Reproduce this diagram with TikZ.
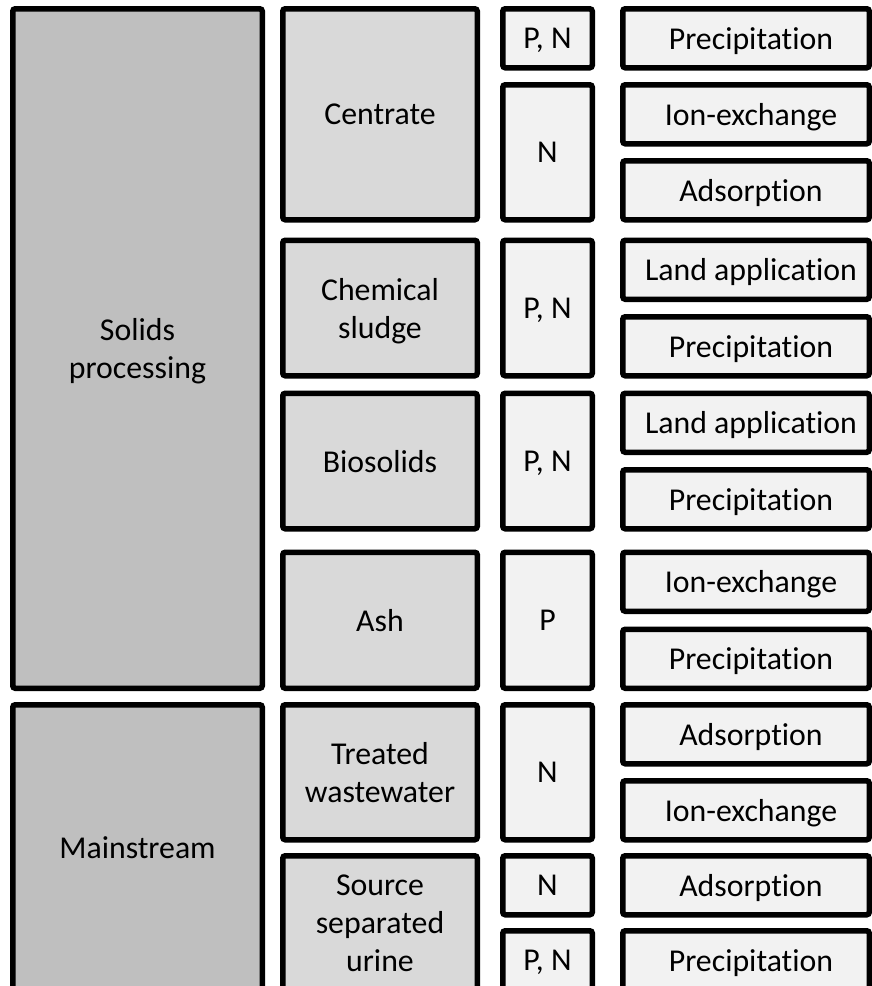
\documentclass[tikz,border=0pt]{standalone}
\usepackage{fontspec}
\setmainfont{Carlito}[Ligatures={NoCommon}]
\definecolor{streamfill}{HTML}{BFBFBF}
\definecolor{sourcefill}{HTML}{D9D9D9}
\definecolor{itemfill}{HTML}{F2F2F2}
\tikzset{
  cell/.style={draw=black, line width=5.5pt, rounded corners=2.5pt,
    inner sep=0pt, outer sep=0pt, align=center, text depth=0pt,
    font=\fontsize{31.8}{38}\selectfont},
  streambox/.style={cell, fill=streamfill},
  sourcebox/.style={cell, fill=sourcefill},
  nutrientbox/.style={cell, fill=itemfill},
  methodbox/.style={cell, fill=itemfill, execute at begin node={\hspace*{10pt}}},
}
% \cellbox{name}{style}{left}{top}{right}{bottom}{text}, outer edges in px
\newcommand\cellbox[7]{%
  \node[#2, minimum width={#5-#3-5.5}, minimum height={#6-#4-5.5}]
    (#1) at ({(#3+#5)/2},{(#4+#6)/2}) {#7};}
\begin{document}
\begin{tikzpicture}[x=1pt, y=-1pt]
  \useasboundingbox (0,0) rectangle (872,986);
  \clip (0,0) rectangle (872,986);

  % streams
  \cellbox{solids}{streambox}{10}{6}{265}{691}{Solids\\processing}
  \cellbox{mainstream}{streambox}{10}{702}{265}{992.5}{Mainstream}

  % sources
  \cellbox{centrate}{sourcebox}{280}{6}{480}{222.5}{Centrate}
  \cellbox{chemsludge}{sourcebox}{280}{237.5}{480}{378.5}{Chemical\\sludge}
  \cellbox{biosolids}{sourcebox}{280}{390.5}{480}{531.5}{Biosolids}
  \cellbox{ash}{sourcebox}{280}{549.5}{480}{691}{Ash}
  \cellbox{treatedww}{sourcebox}{280}{702}{480}{842.5}{Treated\\wastewater}
  \cellbox{urine}{sourcebox}{280}{853}{480}{992.5}{Source\\separated\\urine}

  % nutrients
  \cellbox{nA}{nutrientbox}{500}{6}{595}{70.5}{P, N}
  \cellbox{nB}{nutrientbox}{500}{82}{595}{222.5}{N}
  \cellbox{nC}{nutrientbox}{500}{237.5}{595}{378.5}{P, N}
  \cellbox{nD}{nutrientbox}{500}{390.5}{595}{531.5}{P, N}
  \cellbox{nE}{nutrientbox}{500}{549.5}{595}{691}{P}
  \cellbox{nF}{nutrientbox}{500}{702}{595}{842.5}{N}
  \cellbox{nG}{nutrientbox}{500}{853}{595}{917.5}{N}
  \cellbox{nH}{nutrientbox}{500}{928}{595}{992.5}{P, N}

  % recovery methods
  \cellbox{m0}{methodbox}{620}{6}{872}{70.5}{Precipitation}
  \cellbox{m1}{methodbox}{620}{82}{872}{146.5}{Ion-exchange}
  \cellbox{m2}{methodbox}{620}{158}{872}{222.5}{Adsorption}
  \cellbox{m3}{methodbox}{620}{237.5}{872}{302}{Land application}
  \cellbox{m4}{methodbox}{620}{314}{872}{378.5}{Precipitation}
  \cellbox{m5}{methodbox}{620}{390.5}{872}{455}{Land application}
  \cellbox{m6}{methodbox}{620}{467}{872}{531.5}{Precipitation}
  \cellbox{m7}{methodbox}{620}{549.5}{872}{614}{Ion-exchange}
  \cellbox{m8}{methodbox}{620}{626.5}{872}{691}{Precipitation}
  \cellbox{m9}{methodbox}{620}{702}{872}{766.5}{Adsorption}
  \cellbox{m10}{methodbox}{620}{778}{872}{842.5}{Ion-exchange}
  \cellbox{m11}{methodbox}{620}{853}{872}{917.5}{Adsorption}
  \cellbox{m12}{methodbox}{620}{928}{872}{992.5}{Precipitation}
\end{tikzpicture}
\end{document}
